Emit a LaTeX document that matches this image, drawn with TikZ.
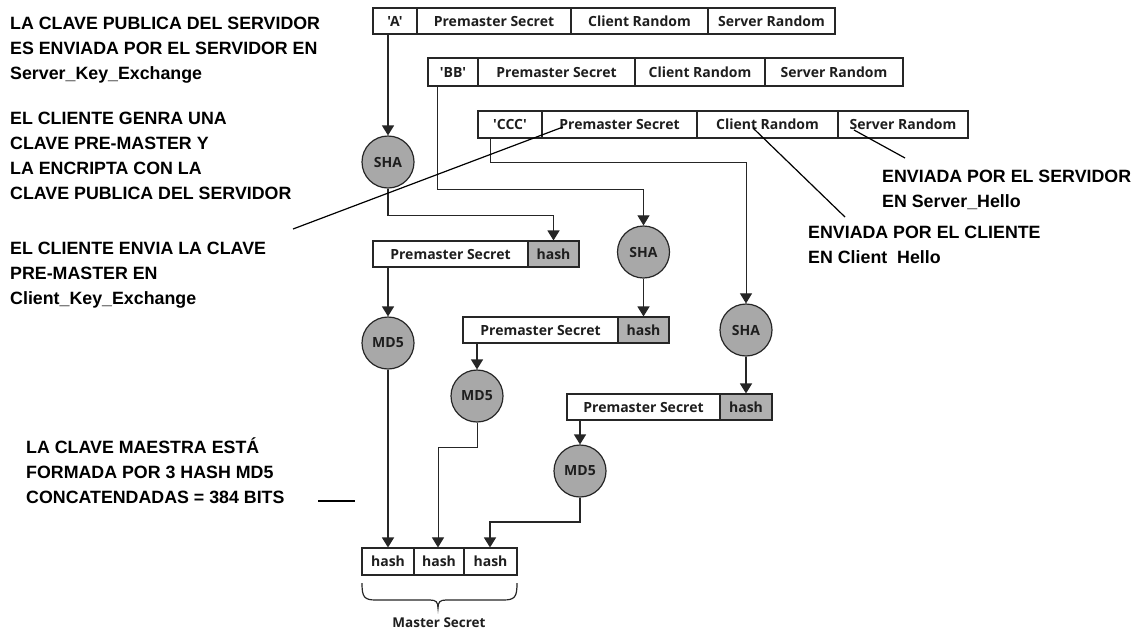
\documentclass[tikz,border=0pt]{standalone}
\usepackage{fontspec}
\setmainfont{Liberation Sans}
\newfontfamily\cellfont{Open Sans}
\usetikzlibrary{arrows.meta}

\definecolor{linec}{HTML}{262626}
\definecolor{opfill}{HTML}{A8A8A8}
\definecolor{hashfill}{HTML}{B0B0B0}
\definecolor{textc}{HTML}{1E1E1E}

\begin{document}
\begin{tikzpicture}[x=1pt,y=-1pt,
  cell/.style={draw=linec, line width=1.1pt, inner sep=0pt, minimum height=26pt,
    font=\cellfont\bfseries\fontsize{14}{16}\selectfont, text=textc},
  hashcell/.style={cell, fill=hashfill},
  op/.style={circle, draw=linec, fill=opfill, line width=1.2pt, minimum size=52pt,
    inner sep=0pt, font=\cellfont\bfseries\fontsize{14}{16}\selectfont, text=textc},
  link/.style={draw=linec, line width=1.4pt},
  thinlink/.style={draw=linec, line width=0.9pt},
  arr/.style={-{Triangle[width=12pt,length=10pt]}},
  note/.style={anchor=base west, inner sep=0pt,
    font=\bfseries\fontsize{17.8}{20}\selectfont, text=black},
  callout/.style={draw=black, line width=1.2pt},
]
\useasboundingbox[fill=white] (0,0) rectangle (1142,633);

% ---- key material rows ----
\node[cell, minimum width=44]  (a0) at (395,21)    {'A'};
\node[cell, minimum width=154] (a1) at (494,21)    {Premaster Secret};
\node[cell, minimum width=137] (a2) at (639.5,21)  {Client Random};
\node[cell, minimum width=127] (a3) at (771.5,21)  {Server Random};

\node[cell, minimum width=50,  minimum height=28] (b0) at (453,72)   {'BB'};
\node[cell, minimum width=157, minimum height=28] (b1) at (556.5,72) {Premaster Secret};
\node[cell, minimum width=130, minimum height=28] (b2) at (700,72)   {Client Random};
\node[cell, minimum width=138, minimum height=28] (b3) at (834,72)   {Server Random};

\node[cell, minimum width=64,  minimum height=27] (c0) at (510,124.5)   {'CCC'};
\node[cell, minimum width=155, minimum height=27] (c1) at (619.5,124.5) {Premaster Secret};
\node[cell, minimum width=141, minimum height=27] (c2) at (767.5,124.5) {Client Random};
\node[cell, minimum width=130, minimum height=27] (c3) at (903,124.5)   {Server Random};

% ---- hash operations ----
\node[op] (sha1) at (388,162)   {SHA};
\node[op] (sha2) at (643.5,252) {SHA};
\node[op] (sha3) at (746,330)   {SHA};
\node[op] (md1)  at (388,343)   {MD5};
\node[op] (md2)  at (477,396)   {MD5};
\node[op] (md3)  at (580,471)   {MD5};

% ---- premaster secret + hash blocks ----
\node[cell, minimum width=155] (p1) at (450.5,254) {Premaster Secret};
\node[hashcell, minimum width=51] (h1) at (553.5,254) {hash};
\node[cell, minimum width=155] (p2) at (540.5,330) {Premaster Secret};
\node[hashcell, minimum width=51] (h2) at (643.5,330) {hash};
\node[cell, minimum width=153] (p3) at (643.5,407) {Premaster Secret};
\node[hashcell, minimum width=52] (h3) at (746,407) {hash};

% ---- master secret ----
\node[cell, minimum width=52, minimum height=27] (m1) at (388,561.5)   {hash};
\node[cell, minimum width=50, minimum height=27] (m2) at (439,561.5)   {hash};
\node[cell, minimum width=53, minimum height=27] (m3) at (490.5,561.5) {hash};
\node[inner sep=0pt, font=\cellfont\bfseries\fontsize{13.5}{15}\selectfont, text=textc]
  (ms) at (439,623) {Master Secret};

% ---- data flow ----
\coordinate (bx) at (437,189);
\coordinate (cx) at (490,162);
\coordinate (k2) at (438,447);
\coordinate (k3) at (490,522);

\draw[link,arr] (sha1.north |- a0.south) -- (sha1.north);
\draw[link,arr] (sha1.south) -- ++(0,27) -| (h1.north);
\draw[link,arr] (md1.north |- p1.south) -- (md1.north);
\draw[link,arr] (md1.south) -- (m1.north);

\draw[thinlink,arr] (bx |- b0.south) -- (bx) -| (sha2.north);
\draw[link,arr] (sha2.south) -- (h2.north);
\draw[link,arr] (md2.north |- p2.south) -- (md2.north);
\draw[thinlink,arr] (md2.south) |- (k2) -- (k2 |- m2.north);

\draw[thinlink,arr] (cx |- c0.south) -- (cx) -| (sha3.north);
\draw[link,arr] (sha3.south) -- (h3.north);
\draw[link,arr] (md3.north |- p3.south) -- (md3.north);
\draw[link,arr] (md3.south) |- (k3) -- (k3 |- m3.north);

% ---- brace under the master secret ----
\draw[draw=linec, line width=1.2pt]
  (362,583) .. controls (362,597) and (364,600) .. (376,600) -- (430,600)
  .. controls (436,600) and (438,602) .. (438,608)
  .. controls (438,602) and (440,600) .. (446,600) -- (503,600)
  .. controls (515,600) and (517,597) .. (517,583);

% ---- annotations ----
\node[note] (n1a) at (10,29)  {LA CLAVE PUBLICA DEL SERVIDOR};
\node[note] (n1b) at (10,54)  {ES ENVIADA POR EL SERVIDOR EN};
\node[note] (n1c) at (10,79)  {Server\_Key\_Exchange};

\node[note] (n2a) at (10,124.5) {EL CLIENTE GENRA UNA};
\node[note] (n2b) at (10,149.5) {CLAVE PRE-MASTER Y};
\node[note] (n2c) at (10,174.5) {LA ENCRIPTA CON LA};
\node[note] (n2d) at (10,199.5) {CLAVE PUBLICA DEL SERVIDOR};

\node[note] (n3a) at (10,254) {EL CLIENTE ENVIA LA CLAVE};
\node[note] (n3b) at (10,279) {PRE-MASTER EN};
\node[note] (n3c) at (10,304) {Client\_Key\_Exchange};

\node[note] (n4a) at (26,453) {LA CLAVE MAESTRA ESTÁ};
\node[note] (n4b) at (26,478) {FORMADA POR 3 HASH MD5};
\node[note] (n4c) at (26,503) {CONCATENDADAS = 384 BITS};

\node[note] (n5a) at (882,182) {ENVIADA POR EL SERVIDOR};
\node[note] (n5b) at (882,207) {EN Server\_Hello};

\node[note] (n6a) at (808,238) {ENVIADA POR EL CLIENTE};
\node[note] (n6b) at (808,263) {EN Client\ \ Hello};

% ---- callout lines ----
\coordinate (q1s) at (563,127);
\coordinate (q1e) at (293,229);
\coordinate (q2s) at (753,128);
\coordinate (q2e) at (845,217);
\coordinate (q3s) at (854,130);
\coordinate (q3e) at (905,158);
\coordinate (q4s) at (318,501);
\coordinate (q4e) at (355,501);
\draw[callout] (q1s) -- (q1e);
\draw[callout] (q2s) -- (q2e);
\draw[callout] (q3s) -- (q3e);
\draw[draw=black, line width=1.1pt] (q4s) -- (q4e);
\end{tikzpicture}
\end{document}
